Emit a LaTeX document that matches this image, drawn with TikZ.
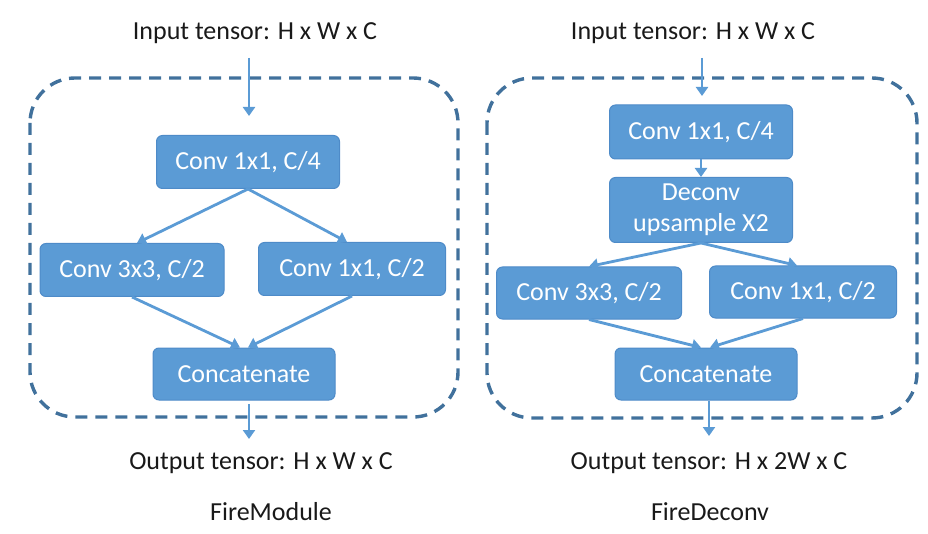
\documentclass[tikz,border=0pt]{standalone}
\usepackage{fontspec}
\setmainfont{Carlito}
\usetikzlibrary{arrows.meta}
\definecolor{boxfill}{HTML}{5B9BD5}
\definecolor{boxline}{HTML}{4E8BC8}
\definecolor{dashc}{HTML}{41719C}
\begin{document}
\begin{tikzpicture}[x=1pt,y=-1pt,
  blk/.style={draw=boxline,line width=1pt,fill=boxfill,rounded corners=6pt,text=white,
    font=\fontsize{26}{28}\selectfont,align=center,inner sep=0pt,minimum height=#1},
  blk/.default=53pt,
  lbl/.style={font=\fontsize{26}{28}\selectfont,text=black!90,inner sep=0pt},
  arr/.style={draw=boxfill,line width=2.8pt,-{Triangle[width=12pt,length=9pt]}},
  frame/.style={draw=dashc,line width=3.4pt,dash pattern=on 12pt off 8pt,rounded corners=45pt}]
\useasboundingbox (0,0) rectangle (928,534);
% ---------------- left: FireModule
\draw[frame] (30,78) rectangle (458,417);
\node[lbl] (inL) at (255,33) {Input tensor: H x W x C};
\node[blk,minimum width=183pt] (c1L) at (248,162) {Conv 1x1, C/4};
\node[blk,minimum width=184pt] (c3L) at (132,270) {Conv 3x3, C/2};
\node[blk,minimum width=187pt] (c1bL) at (352,269) {Conv 1x1, C/2};
\node[blk,minimum width=182pt,minimum height=52pt] (catL) at (244,374) {Concatenate};
\node[lbl] (outL) at (261,463) {Output tensor: H x W x C};
\node[lbl] (nameL) at (271,512) {FireModule};
\coordinate (aL1) at (249,58);
\coordinate (aL2) at (249,116);
\coordinate (aL3) at (249,404);
\coordinate (aL4) at (249,439);
\draw[arr] (aL1) -- (aL2);
\draw[arr] (c1L.south) -- ([xshift=5pt]c3L.north);
\draw[arr] (c1L.south) -- ([xshift=-5pt]c1bL.north);
\draw[arr] (c3L.south) -- ([xshift=-4pt]catL.north);
\draw[arr] (c1bL.south) -- ([xshift=4pt]catL.north);
\draw[arr] (aL3) -- (aL4);
% ---------------- right: FireDeconv
\draw[frame] (487,78) rectangle (917,418);
\node[lbl] (inR) at (693,33) {Input tensor: H x W x C};
\node[blk,minimum width=183pt,minimum height=54pt] (c1R) at (701,132) {Conv 1x1, C/4};
\node[blk,minimum width=183pt,minimum height=65pt,font=\fontsize{26}{31}\selectfont] (dcR) at (701,210) {Deconv\\upsample X2};
\node[blk,minimum width=185pt,minimum height=52pt] (c3R) at (589,293) {Conv 3x3, C/2};
\node[blk,minimum width=187pt,minimum height=52pt] (c1bR) at (803,292) {Conv 1x1, C/2};
\node[blk,minimum width=182pt,minimum height=52pt] (catR) at (706,374) {Concatenate};
\node[lbl] (outR) at (709,463) {Output tensor: H x 2W x C};
\node[lbl] (nameR) at (710,512) {FireDeconv};
\coordinate (aR1) at (702,58);
\coordinate (aR2) at (702,96);
\coordinate (aR3) at (709,401);
\coordinate (aR4) at (709,436);
\draw[arr] (aR1) -- (aR2);
\draw[arr] (c1R.south) -- (dcR.north);
\draw[arr] (dcR.south) -- (c3R.north);
\draw[arr] (dcR.south) -- ([xshift=-6pt]c1bR.north);
\draw[arr] (c3R.south) -- ([xshift=-5pt]catR.north);
\draw[arr] (c1bR.south) -- ([xshift=4pt]catR.north);
\draw[arr] (aR3) -- (aR4);
\end{tikzpicture}
\end{document}
